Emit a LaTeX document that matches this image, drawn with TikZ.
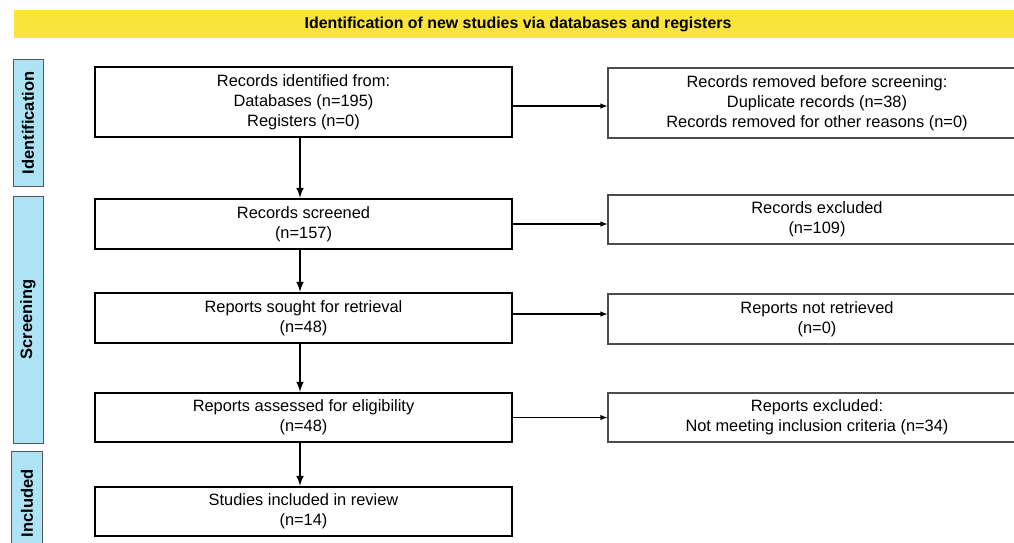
\documentclass[tikz,border=0pt]{standalone}
\usepackage{fontspec}
\setmainfont{Liberation Sans}
\definecolor{bannerYellow}{RGB}{250,228,60}
\definecolor{phaseBlue}{RGB}{174,226,245}
\begin{document}
\begin{tikzpicture}[x=1pt,y=-1pt,
  mainbox/.style={draw=black,line width=2.4pt,rectangle,minimum width=417pt,align=center,font=\fontsize{16.4}{20}\selectfont,inner sep=0pt},
  sidebox/.style={draw=black!70,line width=1.3pt,rectangle,minimum width=418pt,align=center,font=\fontsize{16.4}{20}\selectfont,inner sep=0pt},
  phase/.style={draw=black!65,line width=1pt,fill=phaseBlue,rectangle,minimum width=30pt,inner sep=0pt,font=\bfseries\fontsize{16.5}{18}\selectfont},
  flow/.style={-latex,line width=2.4pt},
  side/.style={-latex,line width=1.4pt}]
\useasboundingbox (0,0) rectangle (1014,543);
\clip (0,0) rectangle (1014,543);
\fill[white] (0,0) rectangle (1014,543);

% banner
\node (banner) at (518,24) [rectangle,fill=bannerYellow,minimum width=1008pt,minimum height=28pt,font=\bfseries\fontsize{15.9}{18}\selectfont]{Identification of new studies via databases and registers};

% phases on the left
\node (pId) at (28,123) [phase,minimum height=126pt]{\rotatebox{90}{Identification}};
\node (pSc) at (28,319.5) [phase,minimum height=247pt]{\rotatebox{90}{Screening}};
\node (pIn) at (27,503.5) [phase,minimum height=105pt,minimum width=31pt]{\rotatebox{90}{Included}};

% main column
\node (b1) at (303.5,102) [mainbox,minimum height=70pt]{Records identified from:\\Databases (n=195)\\Registers (n=0)};
\node (b2) at (303.5,224) [mainbox,minimum height=50pt]{Records screened\\(n=157)};
\node (b3) at (303.5,318) [mainbox,minimum height=50pt]{Reports sought for retrieval\\(n=48)};
\node (b4) at (303.5,417.5) [mainbox,minimum height=49pt]{Reports assessed for eligibility\\(n=48)};
\node (b5) at (303.5,511.5) [mainbox,minimum height=49pt]{Studies included in review\\(n=14)};

% right column
\node (r1) at (817,103) [sidebox,minimum height=70pt]{Records removed before screening:\\Duplicate records (n=38)\\Records removed for other reasons (n=0)};
\node (r2) at (817,219.5) [sidebox,minimum height=49pt]{Records excluded\\(n=109)};
\node (r3) at (817,319) [sidebox,minimum height=50pt]{Reports not retrieved\\(n=0)};
\node (r4) at (817,417.5) [sidebox,minimum height=49pt]{Reports excluded:\\Not meeting inclusion criteria (n=34)};

\draw[flow] ([xshift=-3.5pt]b1.south) -- ([xshift=-3.5pt]b2.north);
\draw[flow] ([xshift=-3.5pt]b2.south) -- ([xshift=-3.5pt]b3.north);
\draw[flow] ([xshift=-3.5pt]b3.south) -- ([xshift=-3.5pt]b4.north);
\draw[flow] ([xshift=-3.5pt]b4.south) -- ([xshift=-3.5pt]b5.north);

\draw[side] ([yshift=-4pt]b1.east) -- ([yshift=-4pt]b1.east -| r1.west);
\draw[side] (b2.east) -- (b2.east -| r2.west);
\draw[side] ([yshift=4pt]b3.east) -- ([yshift=4pt]b3.east -| r3.west);
\draw[side] (b4.east) -- (b4.east -| r4.west);
\end{tikzpicture}
\end{document}
